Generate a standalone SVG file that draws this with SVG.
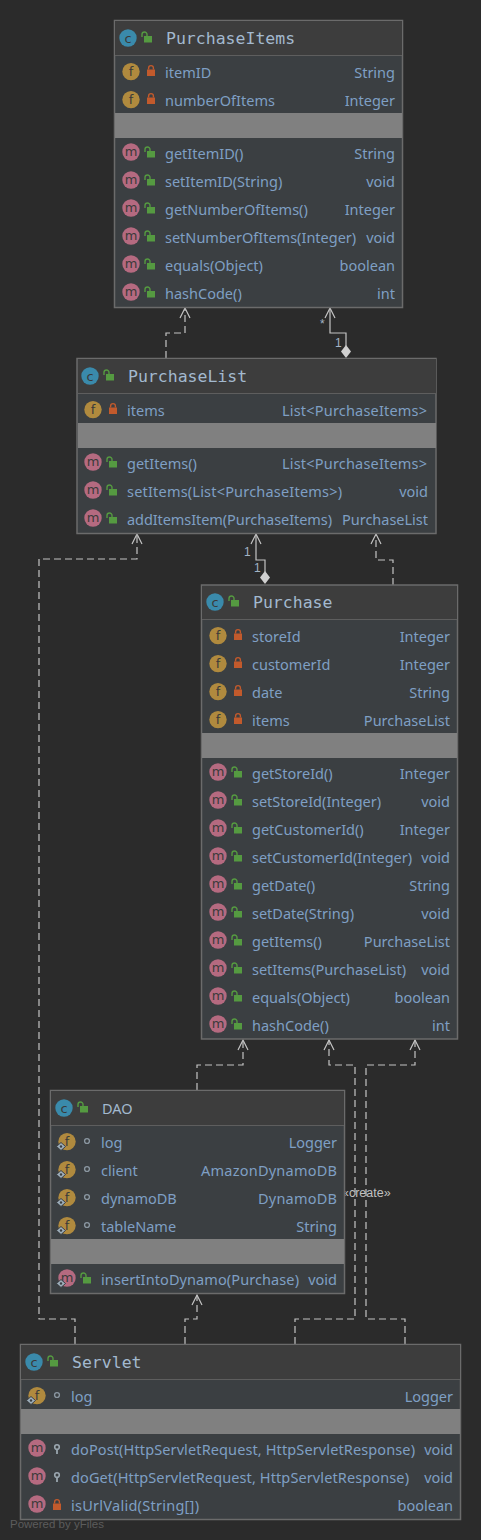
<svg xmlns="http://www.w3.org/2000/svg" width="481" height="1540" viewBox="0 0 481 1540">
<style>
.box{fill:#3b3f42;stroke:#6b6b6b;stroke-width:1.5}
.head{fill:#3d3d3d}
.sep{stroke:#5e5e5e;stroke-width:1.2}
.gray{fill:#808080}
.t{font-family:"Noto Sans","Open Sans",sans-serif;font-size:14.5px;fill:#7f9fc4}
.r{text-anchor:end}
.title{font-family:"DejaVu Sans Mono",monospace;font-size:16.5px;fill:#a3b9cf}
.ic{font-family:"DejaVu Sans",sans-serif;font-size:13px;text-anchor:middle;fill:#3a3a3a}
.line{fill:none;stroke:#c4c4c4;stroke-width:1.2}
.dash{stroke-dasharray:7 4}
.lab{font-family:"Liberation Sans",sans-serif;font-size:12px;fill:#a3b4c6}
.cre{font-family:"Liberation Sans",sans-serif;font-size:12.5px;fill:#c0c0c0}
.pw{font-family:"Liberation Sans",sans-serif;font-size:11.5px;fill:#5c5c5c}
</style>
<defs>
<marker id="open" markerUnits="userSpaceOnUse" markerWidth="14" markerHeight="12" refX="11" refY="6" orient="auto"><path d="M1 1 L11 6 L1 11" fill="none" stroke="#c4c4c4" stroke-width="1.2"/></marker>
<g id="cI"><circle r="8.7" fill="#3a8aab"/><text class="ic" y="4.5">c</text></g>
<g id="fI" transform="translate(0 .6)"><circle r="8.7" fill="#b08a3e"/><text class="ic" y="4.5">f</text></g>
<g id="mI"><circle r="8.7" fill="#b56a80"/><text class="ic" y="4">m</text></g>
<g id="st"><path d="M-4.500 5.500 L0 1.500 L4.500 5.500 L0 9.500Z" fill="#9fb0bd" stroke="#3b3f42" stroke-width="1"/><circle cy="5.500" r="1.200" fill="#3b3f42"/></g>
<g id="pub"><rect x="-3" y="-2" width="8" height="6.5" fill="#559a41"/><path d="M-5 -1 V-3.5 A2.5 2.5 0 0 1 0 -3.5 V-2" fill="none" stroke="#559a41" stroke-width="1.4"/></g>
<g id="pri"><rect x="-4" y="-1.5" width="8" height="6.5" fill="#c25a2c"/><path d="M-2.4 -1.5 V-3 A2.4 2.4 0 0 1 2.4 -3 V-1.5" fill="none" stroke="#c25a2c" stroke-width="1.4"/></g>
<g id="pkg"><circle r="2.4" fill="none" stroke="#8b97a1" stroke-width="1.4"/></g>
<g id="pro"><circle cy="-2" r="2.3" fill="none" stroke="#9aa6af" stroke-width="1.6"/><path d="M0 0 V5" stroke="#9aa6af" stroke-width="1.8"/></g>
</defs>
<rect width="481" height="1540" fill="#2b2b2b"/>

<g id="connectors">
<path class="line dash" marker-end="url(#open)" d="M166 358V333H185V308"/>
<path class="line" marker-end="url(#open)" d="M346 346V333H330V308"/>
<path class="line" marker-end="url(#open)" d="M265 572V560H256V534"/>
<path class="line dash" marker-end="url(#open)" d="M393 585V560H376V534"/>
<path class="line dash" marker-end="url(#open)" d="M75 1344V1319H39V559H137V534"/>
<path class="line dash" marker-end="url(#open)" d="M197 1090V1065H243V1040"/>
<path class="line dash" marker-end="url(#open)" d="M295 1344V1319H355V1065H329V1040"/>
<path class="line dash" marker-end="url(#open)" d="M405 1344V1319H366V1065H415V1040"/>
<path class="line dash" marker-end="url(#open)" d="M185 1344V1319H197V1295"/>
<path d="M346 345L351 351.500L346 358L341 351.500Z" fill="#d0d0d0"/>
<path d="M265 571L270 577.500L265 584L260 577.500Z" fill="#d0d0d0"/>
<text class="lab" x="320" y="328">*</text>
<text class="lab" x="335" y="347">1</text>
<text class="lab" x="244" y="556">1</text>
<text class="lab" x="254" y="572">1</text>
<text class="cre" x="342" y="1197">«create»</text>
</g>

<g id="PurchaseItems">
<rect class="box" x="114.500" y="20.500" width="288" height="287"/>
<rect class="head" x="115" y="21" width="287" height="34"/><path class="sep" d="M115 55.500H402"/>
<rect class="gray" x="115" y="113" width="287" height="25"/>
<use href="#cI" x="128" y="38"/><use href="#pub" x="147" y="38"/><text class="title" x="166" y="44">PurchaseItems</text>
<use href="#fI" x="131" y="71"/><use href="#pri" x="151" y="71"/><text class="t" x="165" y="78">itemID</text><text class="t r" x="395" y="78">String</text>
<use href="#fI" x="131" y="99"/><use href="#pri" x="151" y="99"/><text class="t" x="165" y="106" textLength="110">numberOfItems</text><text class="t r" x="395" y="106">Integer</text>
<use href="#mI" x="131" y="152"/><use href="#pub" x="150" y="153"/><text class="t" x="165" y="159">getItemID()</text><text class="t r" x="395" y="159">String</text>
<use href="#mI" x="131" y="180"/><use href="#pub" x="150" y="181"/><text class="t" x="165" y="187">setItemID(String)</text><text class="t r" x="395" y="187">void</text>
<use href="#mI" x="131" y="208"/><use href="#pub" x="150" y="209"/><text class="t" x="165" y="215">getNumberOfItems()</text><text class="t r" x="395" y="215">Integer</text>
<use href="#mI" x="131" y="236"/><use href="#pub" x="150" y="237"/><text class="t" x="165" y="243">setNumberOfItems(Integer)</text><text class="t r" x="395" y="243">void</text>
<use href="#mI" x="131" y="264"/><use href="#pub" x="150" y="265"/><text class="t" x="165" y="271">equals(Object)</text><text class="t r" x="395" y="271">boolean</text>
<use href="#mI" x="131" y="292"/><use href="#pub" x="150" y="293"/><text class="t" x="165" y="299">hashCode()</text><text class="t r" x="395" y="299">int</text>
</g>

<g id="PurchaseList">
<rect class="box" x="77" y="358.500" width="359" height="175"/>
<rect class="head" x="78" y="359" width="358" height="34"/><path class="sep" d="M78 393.500H436"/>
<rect class="gray" x="78" y="423" width="358" height="25"/>
<use href="#cI" x="90" y="376"/><use href="#pub" x="109" y="376"/><text class="title" x="128" y="382">PurchaseList</text>
<use href="#fI" x="93" y="409"/><use href="#pri" x="113" y="409"/><text class="t" x="127" y="416">items</text><text class="t" x="282" y="416" textLength="145">List&lt;PurchaseItems&gt;</text>
<use href="#mI" x="93" y="462"/><use href="#pub" x="112" y="463"/><text class="t" x="127" y="469">getItems()</text><text class="t" x="282" y="469" textLength="145">List&lt;PurchaseItems&gt;</text>
<use href="#mI" x="93" y="490"/><use href="#pub" x="112" y="491"/><text class="t" x="127" y="497" textLength="215">setItems(List&lt;PurchaseItems&gt;)</text><text class="t r" x="428" y="497">void</text>
<use href="#mI" x="93" y="518"/><use href="#pub" x="112" y="519"/><text class="t" x="127" y="525" textLength="205">addItemsItem(PurchaseItems)</text><text class="t" x="342" y="525" textLength="86">PurchaseList</text>
</g>

<g id="Purchase">
<rect class="box" x="201.500" y="585" width="256" height="454"/>
<rect class="head" x="202" y="586" width="255" height="33"/><path class="sep" d="M202 619.500H457"/>
<rect class="gray" x="202" y="733" width="255" height="25"/>
<use href="#cI" x="215" y="602"/><use href="#pub" x="234" y="602"/><text class="title" x="253" y="608">Purchase</text>
<use href="#fI" x="218" y="635"/><use href="#pri" x="238" y="635"/><text class="t" x="252" y="642">storeId</text><text class="t r" x="450" y="642">Integer</text>
<use href="#fI" x="218" y="663"/><use href="#pri" x="238" y="663"/><text class="t" x="252" y="670">customerId</text><text class="t r" x="450" y="670">Integer</text>
<use href="#fI" x="218" y="691"/><use href="#pri" x="238" y="691"/><text class="t" x="252" y="698">date</text><text class="t r" x="450" y="698">String</text>
<use href="#fI" x="218" y="719"/><use href="#pri" x="238" y="719"/><text class="t" x="252" y="726">items</text><text class="t r" x="450" y="726">PurchaseList</text>
<use href="#mI" x="218" y="772"/><use href="#pub" x="237" y="773"/><text class="t" x="252" y="779">getStoreId()</text><text class="t r" x="450" y="779">Integer</text>
<use href="#mI" x="218" y="800"/><use href="#pub" x="237" y="801"/><text class="t" x="252" y="807">setStoreId(Integer)</text><text class="t r" x="450" y="807">void</text>
<use href="#mI" x="218" y="828"/><use href="#pub" x="237" y="829"/><text class="t" x="252" y="835">getCustomerId()</text><text class="t r" x="450" y="835">Integer</text>
<use href="#mI" x="218" y="856"/><use href="#pub" x="237" y="857"/><text class="t" x="252" y="863">setCustomerId(Integer)</text><text class="t r" x="450" y="863">void</text>
<use href="#mI" x="218" y="884"/><use href="#pub" x="237" y="885"/><text class="t" x="252" y="891">getDate()</text><text class="t r" x="450" y="891">String</text>
<use href="#mI" x="218" y="912"/><use href="#pub" x="237" y="913"/><text class="t" x="252" y="919">setDate(String)</text><text class="t r" x="450" y="919">void</text>
<use href="#mI" x="218" y="940"/><use href="#pub" x="237" y="941"/><text class="t" x="252" y="947">getItems()</text><text class="t r" x="450" y="947">PurchaseList</text>
<use href="#mI" x="218" y="968"/><use href="#pub" x="237" y="969"/><text class="t" x="252" y="975">setItems(PurchaseList)</text><text class="t r" x="450" y="975">void</text>
<use href="#mI" x="218" y="996"/><use href="#pub" x="237" y="997"/><text class="t" x="252" y="1003">equals(Object)</text><text class="t r" x="450" y="1003">boolean</text>
<use href="#mI" x="218" y="1024"/><use href="#pub" x="237" y="1025"/><text class="t" x="252" y="1031">hashCode()</text><text class="t r" x="450" y="1031">int</text>
</g>

<g id="DAO">
<rect class="box" x="50.500" y="1090.500" width="294" height="203"/>
<rect class="head" x="51" y="1091" width="293" height="34"/><path class="sep" d="M51 1125.500H344"/>
<rect class="gray" x="51" y="1239" width="293" height="25"/>
<use href="#cI" x="64" y="1108"/><use href="#pub" x="83" y="1108"/><text class="t" x="102" y="1114" style="fill:#a3b9cf">DAO</text>
<use href="#fI" x="67" y="1141"/><use href="#st" x="61" y="1141"/><use href="#pkg" x="87" y="1141"/><text class="t" x="101" y="1148">log</text><text class="t r" x="337" y="1148">Logger</text>
<use href="#fI" x="67" y="1169"/><use href="#st" x="61" y="1169"/><use href="#pkg" x="87" y="1169"/><text class="t" x="101" y="1176">client</text><text class="t" x="201" y="1176" textLength="136">AmazonDynamoDB</text>
<use href="#fI" x="67" y="1197"/><use href="#st" x="61" y="1197"/><use href="#pkg" x="87" y="1197"/><text class="t" x="101" y="1204">dynamoDB</text><text class="t" x="258" y="1204" textLength="79">DynamoDB</text>
<use href="#fI" x="67" y="1225"/><use href="#st" x="61" y="1225"/><use href="#pkg" x="87" y="1225"/><text class="t" x="101" y="1232">tableName</text><text class="t r" x="337" y="1232">String</text>
<use href="#mI" x="67" y="1278"/><use href="#st" x="61" y="1278"/><use href="#pub" x="86" y="1279"/><text class="t" x="101" y="1285" textLength="198">insertIntoDynamo(Purchase)</text><text class="t r" x="337" y="1285">void</text>
</g>

<g id="Servlet">
<rect class="box" x="20.500" y="1344.500" width="440" height="175"/>
<rect class="head" x="21" y="1345" width="439" height="34"/><path class="sep" d="M21 1379.500H460"/>
<rect class="gray" x="21" y="1409" width="439" height="25"/>
<use href="#cI" x="34" y="1362"/><use href="#pub" x="53" y="1362"/><text class="title" x="72" y="1368">Servlet</text>
<use href="#fI" x="37" y="1395"/><use href="#st" x="31" y="1395"/><use href="#pkg" x="57" y="1395"/><text class="t" x="71" y="1402">log</text><text class="t r" x="453" y="1402">Logger</text>
<use href="#mI" x="37" y="1448"/><use href="#pro" x="57" y="1449"/><text class="t" x="71" y="1455" textLength="344">doPost(HttpServletRequest, HttpServletResponse)</text><text class="t r" x="453" y="1455">void</text>
<use href="#mI" x="37" y="1476"/><use href="#pro" x="57" y="1477"/><text class="t" x="71" y="1483" textLength="338">doGet(HttpServletRequest, HttpServletResponse)</text><text class="t r" x="453" y="1483">void</text>
<use href="#mI" x="37" y="1504"/><use href="#pri" x="57" y="1505"/><text class="t" x="71" y="1511" textLength="128">isUrlValid(String[])</text><text class="t r" x="453" y="1511">boolean</text>
</g>
<text class="pw" x="10" y="1528">Powered by yFiles</text>
</svg>
